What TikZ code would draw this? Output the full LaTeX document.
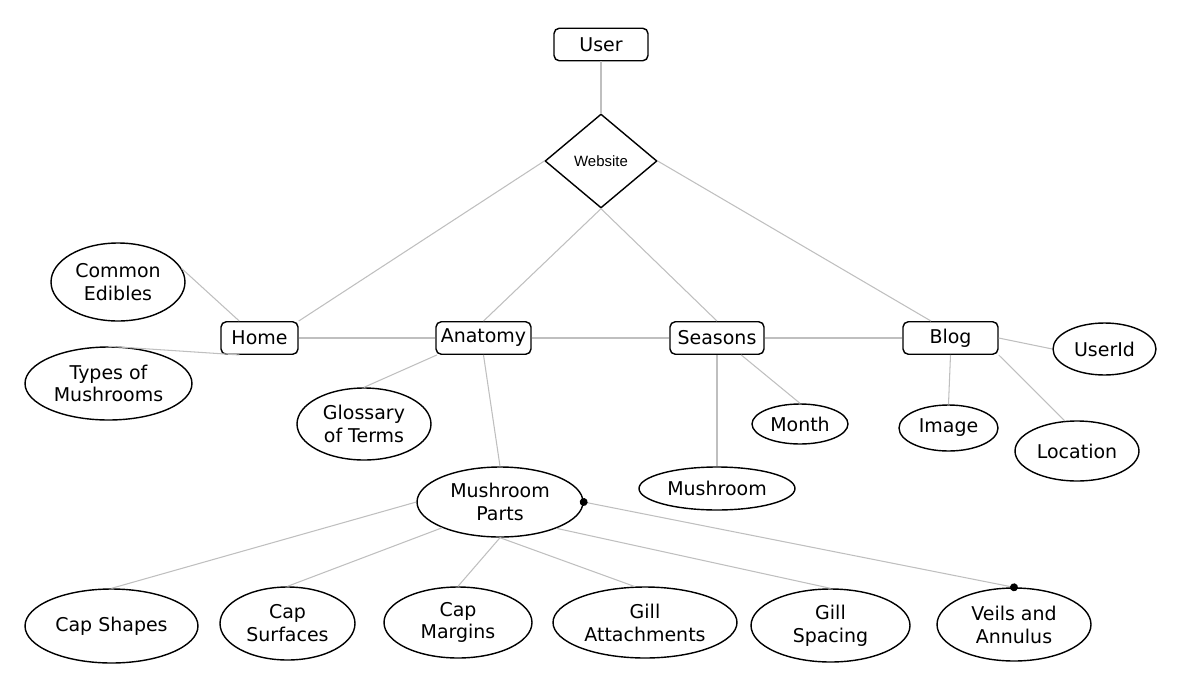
\documentclass[tikz,border=0pt]{standalone}
\usepackage{fontspec}
\setmainfont{DejaVu Sans}
\newfontfamily\arialfont{Liberation Sans}
\usetikzlibrary{shapes.geometric,arrows.meta}

\begin{document}
\begin{tikzpicture}[x=0.02cm,y=-0.02cm,font=\fontsize{10.8}{13}\selectfont,
    box/.style={draw,line width=0.8pt,rounded corners=3pt,minimum height=0.65cm,inner sep=0pt},
    attr/.style={draw,line width=0.8pt,ellipse,inner sep=0pt,align=center},
    link/.style={draw=black!25,line width=0.6pt}]
      \useasboundingbox (0,0) rectangle (1197,690);
      \draw
        (601,44.5) node[box,minimum width=1.88cm] (0){User}
        (601,161) node[draw,line width=0.8pt,diamond,inner sep=0pt,minimum width=2.24cm,minimum height=1.88cm] (1){\arialfont\fontsize{8.5}{10}\selectfont Website}
        (259.5,338) node[box,minimum width=1.54cm] (2){Home}
        (483.5,338) node[box,minimum width=1.9cm] (3){Anatomy}
        (717,338) node[box,minimum width=1.88cm] (4){Seasons}
        (950.5,338) node[box,minimum width=1.9cm] (5){Blog}
        (118,282) node[attr,minimum width=2.68cm,minimum height=1.56cm] (6){Common\\Edibles}
        (108.5,383.5) node[attr,minimum width=3.34cm,minimum height=1.46cm] (7){Types of\\Mushrooms}
        (364,424) node[attr,minimum width=2.68cm,minimum height=1.44cm] (8){Glossary\\of Terms}
        (500,502) node[attr,minimum width=3.32cm,minimum height=1.4cm] (9){Mushroom\\Parts}
        (800,424) node[attr,minimum width=1.92cm,minimum height=0.8cm] (10){Month}
        (717,488.5) node[attr,minimum width=3.12cm,minimum height=0.86cm] (11){Mushroom}
        (948.5,428) node[attr,minimum width=1.98cm,minimum height=0.92cm] (12){Image}
        (1077,451) node[attr,minimum width=2.48cm,minimum height=1.2cm] (13){Location}
        (1104.5,349) node[attr,minimum width=2.06cm,minimum height=1.04cm] (14){UserId}
        (111.5,626) node[attr,minimum width=3.46cm,minimum height=1.48cm] (15){Cap Shapes}
        (287.5,623.5) node[attr,minimum width=2.7cm,minimum height=1.46cm] (16){Cap\\Surfaces}
        (458,622.5) node[attr,minimum width=2.96cm,minimum height=1.42cm] (17){Cap\\Margins}
        (645,622.5) node[attr,minimum width=3.68cm,minimum height=1.42cm] (18){Gill\\Attachments}
        (830.5,625.5) node[attr,minimum width=3.18cm,minimum height=1.46cm] (19){Gill\\Spacing}
        (1014,624.5) node[attr,minimum width=3.08cm,minimum height=1.46cm] (20){Veils and\\Annulus};
      \begin{scope}[link]
        \draw (0.south) to (1.north);
        \draw (1.west) to (2.north east);
        \draw (1.south) to (3.north);
        \draw (1.south) to (4.north);
        \draw (1.east) to (5.139);
        \draw (2.east) to (3.west);
        \draw (3.east) to (4.west);
        \draw (4.east) to (5.west);
        \draw (6.12) to (2.140);
        \draw (7.north) to (2.220);
        \draw (3.200) to (8.north);
        \draw (3.south) to (9.north);
        \draw (4.south) to (11.north);
        \draw (4.-35) to (10.north);
        \draw (5.south) to (12.north);
        \draw (5.south east) to (13.112);
        \draw (5.east) to (14.west);
        \draw (9.west) to (15.north);
        \draw (9.204) to (16.north);
        \draw (9.south) to (17.north);
        \draw (9.south) to (18.106);
        \draw (9.-25) to (19.north);
        \draw[{Circle[length=4.5pt,color=black]}-{Circle[length=4.5pt,color=black]},
          shorten <=-2.25pt,shorten >=-2.25pt] (9.east) to (20.north);
      \end{scope}
    \end{tikzpicture}
\end{document}
